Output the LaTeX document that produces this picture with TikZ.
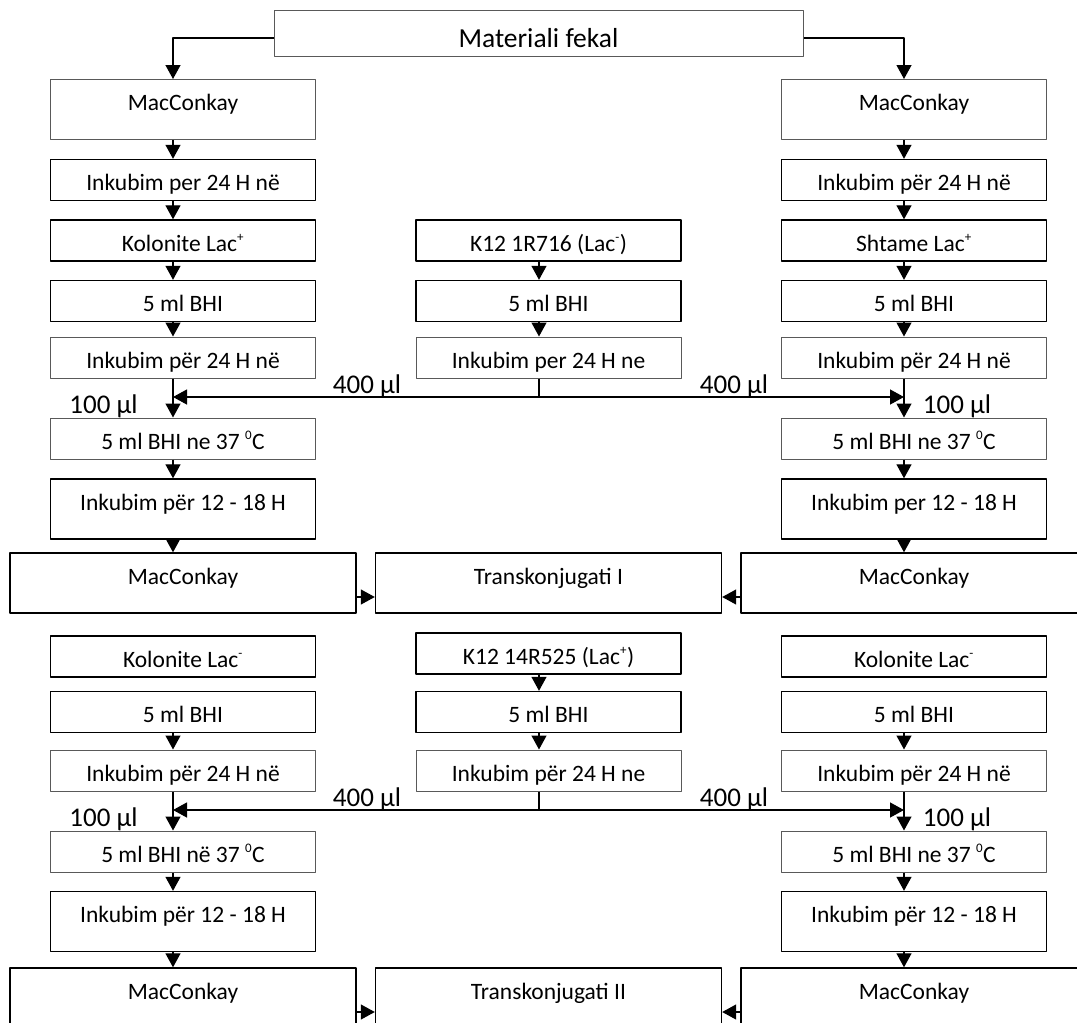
\documentclass[tikz,border=0pt]{standalone}
\usepackage{fontspec}
\setmainfont{Carlito}
\usetikzlibrary{arrows.meta}
\newcommand{\supx}[1]{\textsuperscript{\fontsize{13}{13}\selectfont #1}}
\begin{document}
\begin{tikzpicture}[x=1pt,y=-1pt,line join=round,
	box/.style={draw,line width=1.4pt,minimum width=265pt,inner ysep=0pt,text height=31pt,text depth=10pt,font=\fontsize{23.5}{27}\selectfont},
	thin/.style={draw=black!65,line width=1pt},
	tall/.style={text height=31pt,text depth=29pt},
	wide/.style={minimum width=346pt},
	lbl/.style={inner sep=0pt,anchor=base,font=\fontsize{27}{32}\selectfont},
	arr/.style={-{Triangle[width=15pt,length=14pt]},line width=1.3pt}]
	\useasboundingbox (0,0) rectangle (1077,1023);
	\clip (0,0) rectangle (1077,1023);
	\def\xl{183} \def\xc{548.5} \def\xr{914}
	\coordinate (cl) at (173,0); \coordinate (cc) at (539,0); \coordinate (cr) at (904,0);
	\node[box,thin,minimum width=529pt,text height=37pt,text depth=9pt,font=\fontsize{27.5}{32}\selectfont] (mat) at (538.5,33) {Materiali fekal};
	% first part
	\node[box,thin,tall] (l1) at (\xl,109.5) {MacConkay};
	\node[box] (l2) at (\xl,180) {Inkubim per 24 H në};
	\node[box] (l3) at (\xl,240.5) {Kolonite Lac\supx{+}};
	\node[box] (l4) at (\xl,301) {5 ml BHI};
	\node[box,thin] (l5) at (\xl,357.5) {Inkubim për 24 H në};
	\node[box,thin] (l6) at (\xl,438.5) {5 ml BHI ne 37 \supx{0}C};
	\node[box,tall] (l7) at (\xl,509) {Inkubim për 12 - 18 H};
	\node[box,tall,wide] (l8) at (\xl,583) {MacConkay};
	\node[box] (c3) at (\xc,240.5) {K12 1R716 (Lac\supx{-})};
	\node[box] (c4) at (\xc,301) {5 ml BHI};
	\node[box,thin] (c5) at (\xc,357.5) {Inkubim per 24 H ne};
	\node[box,tall,wide] (t1) at (\xc,583) {Transkonjugati I};
	\node[box,thin,tall] (r1) at (\xr,109.5) {MacConkay};
	\node[box] (r2) at (\xr,180) {Inkubim për 24 H në};
	\node[box] (r3) at (\xr,240.5) {Shtame Lac\supx{+}};
	\node[box] (r4) at (\xr,301) {5 ml BHI};
	\node[box,thin] (r5) at (\xr,357.5) {Inkubim për 24 H në};
	\node[box,thin] (r6) at (\xr,438.5) {5 ml BHI ne 37 \supx{0}C};
	\node[box,tall] (r7) at (\xr,509) {Inkubim per 12 - 18 H};
	\node[box,tall,wide] (r8) at (\xr,583) {MacConkay};
	% second part
	\node[box] (lb1) at (\xl,656.5) {Kolonite Lac\supx{-}};
	\node[box] (lb2) at (\xl,712) {5 ml BHI};
	\node[box,thin] (lb3) at (\xl,770.5) {Inkubim për 24 H në};
	\node[box,thin] (lb4) at (\xl,851.5) {5 ml BHI në 37 \supx{0}C};
	\node[box,tall] (lb5) at (\xl,921.5) {Inkubim për 12 - 18 H};
	\node[box,tall,wide] (lb6) at (\xl,998) {MacConkay};
	\node[box] (cb1) at (\xc,653.5) {K12 14R525 (Lac\supx{+})};
	\node[box] (cb2) at (\xc,712) {5 ml BHI};
	\node[box,thin] (cb3) at (\xc,770.5) {Inkubim për 24 H ne};
	\node[box,tall,wide] (t2) at (\xc,998) {Transkonjugati II};
	\node[box] (rb1) at (\xr,656.5) {Kolonite Lac\supx{-}};
	\node[box] (rb2) at (\xr,712) {5 ml BHI};
	\node[box,thin] (rb3) at (\xr,770.5) {Inkubim për 24 H në};
	\node[box,thin] (rb4) at (\xr,851.5) {5 ml BHI ne 37 \supx{0}C};
	\node[box,tall] (rb5) at (\xr,921.5) {Inkubim për 12 - 18 H};
	\node[box,tall,wide] (rb6) at (\xr,998) {MacConkay};
	% arrows
	\draw[arr] ([yshift=-5pt]mat.west) -| (l1.north -| cl);
	\draw[arr] ([yshift=-5pt]mat.east) -| (r1.north -| cr);
	\foreach \a/\b/\k in {l1/l2/cl,l2/l3/cl,l3/l4/cl,l4/l5/cl,l5/l6/cl,l6/l7/cl,l7/l8/cl,
		c3/c4/cc,c4/c5/cc,r1/r2/cr,r2/r3/cr,r3/r4/cr,r4/r5/cr,r5/r6/cr,r6/r7/cr,r7/r8/cr,
		lb2/lb3/cl,lb3/lb4/cl,lb4/lb5/cl,lb5/lb6/cl,cb1/cb2/cc,cb2/cb3/cc,
		rb2/rb3/cr,rb3/rb4/cr,rb4/rb5/cr,rb5/rb6/cr}
	\draw[arr] (\a.south -| \k) -- (\b.north -| \k);
	\foreach \a/\b in {l8/t1,lb6/t2}
	\draw[arr] ([yshift=-14pt]\a.east) -- ([yshift=-14pt]\b.west);
	\foreach \a/\b in {r8/t1,rb6/t2}
	\draw[arr] ([yshift=-14pt]\a.west) -- ([yshift=-14pt]\b.east);
	\coordinate (j1) at (539,397); \coordinate (j2) at (539,810);
	\foreach \a/\j in {c5/j1,cb3/j2}
	{\draw[line width=1.3pt] (\a.south -| \j) -- (\j);
		\draw[arr] (\j) -- (\j -| cl);
		\draw[arr] (\j) -- (\j -| cr);}
	\node[lbl] (v1) at (367,393) {400 µl};
	\node[lbl] (v2) at (734,393) {400 µl};
	\node[lbl] (w1) at (103.5,413) {100 µl};
	\node[lbl] (w2) at (957,413) {100 µl};
	\node[lbl] (v3) at (367,806) {400 µl};
	\node[lbl] (v4) at (734,806) {400 µl};
	\node[lbl] (w3) at (103.5,826) {100 µl};
	\node[lbl] (w4) at (957,826) {100 µl};
\end{tikzpicture}
\end{document}
